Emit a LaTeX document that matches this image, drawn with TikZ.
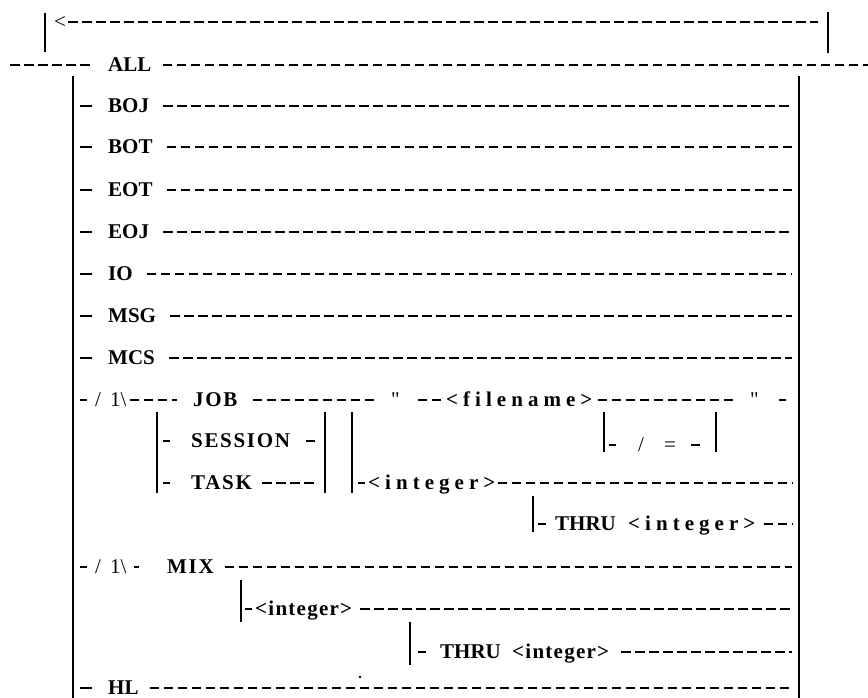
\documentclass[tikz,border=0pt]{standalone}
\usepackage{fontspec}
\setmainfont{Liberation Serif}
\newfontfamily\wideface[LetterSpace=8]{Liberation Serif}
\newfontfamily\spreadface[LetterSpace=24]{Liberation Serif}
\newfontfamily\mildface[LetterSpace=6]{Liberation Serif}
\usetikzlibrary{positioning}

\begin{document}
\begin{tikzpicture}[x=1pt,y=-1pt,
    kw/.style={font=\bfseries\fontsize{21}{23}\selectfont,inner sep=0pt,text height=13.5pt,text depth=0pt,anchor=west},
    wkw/.style={kw,font=\wideface\bfseries\fontsize{21}{23}\selectfont},
    sp/.style={kw,font=\spreadface\bfseries\fontsize{21}{23}\selectfont},
    mkw/.style={kw,font=\mildface\bfseries\fontsize{21}{23}\selectfont},
    sym/.style={kw,font=\fontsize{21}{23}\selectfont},
    rail/.style={line width=1.8pt,dash pattern=on 9.5pt off 4.5pt},
    lead/.style={line width=1.8pt},
    bar/.style={line width=1.2pt},
    speck/.style={circle,fill,inner sep=0pt,minimum size=2.6pt}]
  \useasboundingbox (0,0) rectangle (868,698);

  % return loop over the top
  \coordinate (tl0) at (45,13); \coordinate (tl1) at (45,52);
  \coordinate (tr0) at (828,12); \coordinate (tr1) at (828,53);
  \draw[bar] (tl0) -- (tl1);
  \draw[bar] (tr0) -- (tr1);
  \node[sym] (back) at (54,22) {<};
  \coordinate (backend) at (818,22);
  \draw[rail,shorten <=2pt] (back) -- (backend);

  % main line
  \coordinate (start) at (10,65);
  \coordinate (stop) at (868,65);
  \node[kw] (all) at (108,65) {ALL};
  \draw[rail,shorten >=14pt] (start) -- (all);
  \draw[rail,shorten <=11pt] (all) -- (stop);

  % option bars
  \coordinate (ltop) at (73,76); \coordinate (lbot) at (73,698);
  \coordinate (rtop) at (799,76); \coordinate (rbot) at (799,698);
  \draw[bar] (ltop) -- (lbot);
  \draw[bar] (rtop) -- (rbot);
  \coordinate (lstart) at (80,0);
  \coordinate (rend) at (792,0);

  \foreach \name/\y in {BOJ/106,BOT/147,EOT/190,EOJ/232,IO/274,MSG/316,MCS/358}{
    \node[kw] (\name) at (108,\y) {\name};
    \draw[lead,shorten >=16pt] (lstart|-\name) -- (\name);
    \draw[rail,shorten <=14pt] (\name) -- (\name-|rend);
  }

  % JOB / SESSION / TASK
  \node[sym] (jsl) at (95,400) {/\hspace{9pt}1\textbackslash};
  \draw[lead,shorten >=8pt] (lstart|-jsl) -- (jsl);
  \node[wkw] (job) at (193,400) {JOB};
  \draw[rail,shorten <=3pt,shorten >=16pt] (jsl) -- (job);
  \node[sym] (q1) at (391,400) {\textquotedbl};
  \draw[rail,shorten <=15pt,shorten >=16pt] (job) -- (q1);
  \node[sp] (fname) at (446,400) {<filename>};
  \draw[rail,shorten <=18pt,shorten >=5pt] (q1) -- (fname);
  \node[sym] (q2) at (750,400) {\textquotedbl};
  \draw[rail,shorten <=5pt,shorten >=14pt] (fname) -- (q2);
  \coordinate (jend) at (786,400);
  \draw[lead,shorten <=20pt] (q2) -- (jend);

  \coordinate (c1top) at (157,412); \coordinate (c1bot) at (157,493);
  \coordinate (c2top) at (325,412); \coordinate (c2bot) at (325,493);
  \coordinate (c3top) at (352,412); \coordinate (c3bot) at (352,493);
  \draw[bar] (c1top) -- (c1bot);
  \draw[bar] (c2top) -- (c2bot);
  \draw[bar] (c3top) -- (c3bot);
  \coordinate (c1) at (163,0); \coordinate (c2) at (315,0); \coordinate (c3) at (358,0);

  \node[wkw] (session) at (191,441) {SESSION};
  \draw[lead,shorten >=21pt] (c1|-session) -- (session);
  \draw[lead,shorten <=16pt] (session) -- (c2|-session);
  \node[wkw] (task) at (191,483) {TASK};
  \draw[lead,shorten >=21pt] (c1|-task) -- (task);
  \draw[rail,shorten <=10pt] (task) -- (c2|-task);

  \node[sp] (jint) at (368,483) {<integer>};
  \draw[lead,shorten >=3pt] (c3|-jint) -- (jint);
  \draw[rail,shorten <=2pt] (jint) -- (jint-|rend);

  % / = branch
  \coordinate (s1top) at (604,412); \coordinate (s1bot) at (604,452);
  \coordinate (s2top) at (716,412); \coordinate (s2bot) at (716,452);
  \draw[bar] (s1top) -- (s1bot);
  \draw[bar] (s2top) -- (s2bot);
  \node[sym] (slash) at (638,445) {/\hspace{20pt}=};
  \coordinate (s1) at (609,445); \coordinate (s2) at (700,445);
  \draw[lead,shorten >=22pt] (s1) -- (slash);
  \draw[lead,shorten <=15pt] (slash) -- (s2);

  % THRU after JOB integer
  \coordinate (t1top) at (533,496); \coordinate (t1bot) at (533,532);
  \draw[bar] (t1top) -- (t1bot);
  \coordinate (t1) at (538,524);
  \node[kw] (thru1) at (555,524) {THRU};
  \draw[lead,shorten >=9pt] (t1) -- (thru1);
  \node[sp] (tint1) at (628,524) {<integer>};
  \draw[rail,shorten <=8pt] (tint1) -- (tint1-|rend);

  % MIX
  \node[sym] (msl) at (95,567) {/\hspace{9pt}1\textbackslash};
  \draw[lead,shorten >=8pt] (lstart|-msl) -- (msl);
  \node[wkw] (mix) at (167,567) {MIX};
  \draw[lead,shorten <=7pt,shorten >=28pt] (msl) -- (mix);
  \draw[rail,shorten <=11pt] (mix) -- (mix-|rend);

  \coordinate (m1top) at (241,580); \coordinate (m1bot) at (241,622);
  \draw[bar] (m1top) -- (m1bot);
  \coordinate (m1) at (245,609);
  \node[mkw] (mint) at (255,609) {<integer>};
  \draw[lead,shorten >=3pt] (m1) -- (mint);
  \draw[rail,shorten <=8pt] (mint) -- (mint-|rend);

  \coordinate (m2top) at (410,622); \coordinate (m2bot) at (410,665);
  \draw[bar] (m2top) -- (m2bot);
  \coordinate (m2) at (418,652);
  \node[kw] (thru2) at (440,652) {THRU};
  \draw[lead,shorten >=14pt] (m2) -- (thru2);
  \node[mkw] (tint2) at (512,652) {<integer>};
  \draw[rail,shorten <=12pt] (tint2) -- (tint2-|rend);

  \node[speck] (dot) at (360,677) {};

  % HL
  \node[kw] (HL) at (108,688) {HL};
  \draw[lead,shorten >=16pt] (lstart|-HL) -- (HL);
  \draw[rail,shorten <=11pt] (HL) -- (HL-|rend);
\end{tikzpicture}
\end{document}
